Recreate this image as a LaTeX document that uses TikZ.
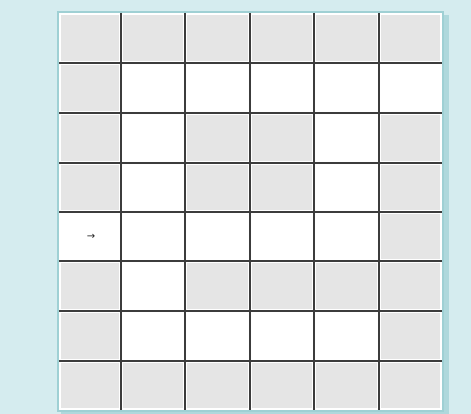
\documentclass[tikz,border=0pt]{standalone}
\usepackage{fontspec}
\newfontfamily\symfont{DejaVu Sans}
\definecolor{bgc}{HTML}{D5ECEF}
\definecolor{cellg}{HTML}{E5E5E5}
\definecolor{gridc}{HTML}{3C3C3C}
\definecolor{edgec}{HTML}{9FD0D4}
\begin{document}
\begin{tikzpicture}[x=1pt,y=-1pt,
  gridline/.style={draw=gridc,line width=1.7pt},
  graycell/.style={fill=cellg}]
\fill[bgc] (0,0) rectangle (471,414);
\useasboundingbox (0,0) rectangle (471,414);
% shadow
\fill[edgec!70!bgc] (61,15) rectangle (449,414);
\fill[edgec] (57,11) rectangle (444,412);
\fill[white] (59,13) rectangle (442,410);
\def\xs{{59,120.7,185,250,314.3,379.3,442}}
\def\ys{{13,62.7,112.7,162.7,212.3,260.7,310.7,360.7,410}}
% gray pattern rows (1 = gray)
\foreach \r/\row in {0/{1,1,1,1,1,1},1/{1,0,0,0,0,0},2/{1,0,1,1,0,1},3/{1,0,1,1,0,1},4/{0,0,0,0,0,1},5/{1,0,1,1,1,1},6/{1,0,0,0,0,1},7/{1,1,1,1,1,1}}{
  \foreach \v [count=\c from 0] in \row {
    \ifnum\v=1
      \pgfmathsetmacro\xa{\xs[\c]+2}
      \pgfmathsetmacro\xb{\xs[\c+1]-2}
      \pgfmathsetmacro\ya{\ys[\r]+2}
      \pgfmathsetmacro\yb{\ys[\r+1]-2}
      \fill[graycell] (\xa,\ya) rectangle (\xb,\yb);
    \fi
  }
}
% grid lines
\foreach \x in {120.7,185,250,314.3,379.3}{
  \draw[gridline] (\x,13) -- (\x,410);
}
\foreach \y in {62.7,112.7,162.7,212.3,260.7,310.7,360.7}{
  \draw[gridline] (59,\y) -- (442,\y);
}
\node[font=\symfont\fontsize{10}{10}\selectfont,text=black!85] (arrow) at (91,237) {→};
\end{tikzpicture}
\end{document}
